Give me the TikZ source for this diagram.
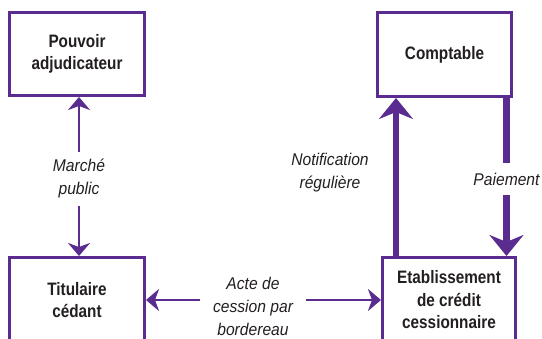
\documentclass[tikz,border=0pt]{standalone}
\usepackage{fontspec}
\setmainfont[FakeStretch=0.85]{Liberation Sans}
\newfontfamily\lblfont[FakeStretch=0.92]{Liberation Sans}
\usetikzlibrary{arrows.meta}
\definecolor{mauve}{RGB}{91,44,143}
\definecolor{ink}{RGB}{35,31,32}

\begin{document}
\begin{tikzpicture}[x=1pt,y=-1pt]
    \tikzstyle{box}=[draw=mauve, line width=3pt, fill=white, minimum width=134pt, minimum height=84pt, inner sep=0pt, align=center, text=ink, font=\fontsize{18}{22.5}\selectfont\bfseries]
    \tikzstyle{lbl}=[align=center, text=ink, inner sep=8pt, font=\lblfont\fontsize{17}{23}\selectfont\itshape]
    \tikzstyle{thinarrow}=[draw=mauve, line width=2.8pt, -{Stealth[length=13pt,width=22pt,inset=4pt]}]
    \tikzstyle{fatline}=[draw=mauve, line width=6.5pt]
    \tikzstyle{fatarrow}=[fatline, -{Stealth[length=21pt,width=34pt,inset=7pt]}]
    \useasboundingbox (0,0) rectangle (542,339);
    \clip (0,0) rectangle (542,339);
    \node[box, minimum width=135pt, minimum height=83pt] (pouvoir) at (77,54) {Pouvoir\\adjudicateur};
    \node[box] (comptable) at (444.5,54.5) {Comptable};
    \node[box, minimum width=135pt, minimum height=85pt] (titulaire) at (77,300) {Titulaire\\cédant};
    \node[box, minimum width=133pt, minimum height=85pt] (etab) at (449,300) {Etablissement\\de crédit\\cessionnaire};
    \node[lbl, inner ysep=7pt] (marche) at (79,179) {Marché\\public};
    \node[lbl, inner xsep=13pt] (acte) at (253,306) {Acte de\\cession par\\bordereau};
    \node[lbl] (notif) at (330,173) {Notification\\régulière};
    \node[lbl, inner ysep=10pt] (paiement) at (506.5,179) {Paiement};
    \draw[thinarrow] (marche) -- (marche |- pouvoir.south);
    \draw[thinarrow] (marche) -- (marche |- titulaire.north);
    \draw[thinarrow] (acte.west |- titulaire) -- (titulaire);
    \draw[thinarrow] (acte.east |- etab) -- (etab);
    \draw[fatarrow] ([xshift=15pt]etab.north west) -- ([xshift=20pt]comptable.south west);
    \draw[fatline] (paiement |- comptable.south) -- (paiement);
    \draw[fatarrow] (paiement) -- (paiement |- etab.north);
\end{tikzpicture}
\end{document}
